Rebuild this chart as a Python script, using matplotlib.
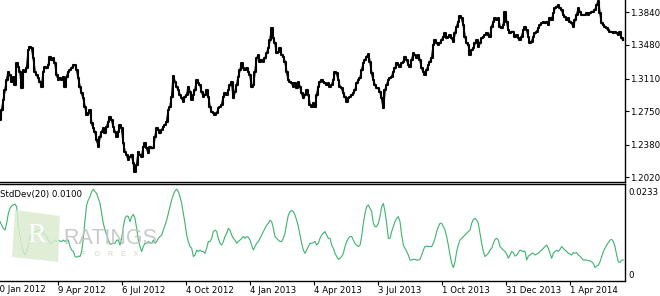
import numpy as np
import matplotlib
matplotlib.use("Agg")
import matplotlib.pyplot as plt
from matplotlib.patches import Polygon

# ========== Data (EURUSD daily) ==========
# close price, one sample every 5/3 bar
price = [
    1.2652, 1.2763, 1.2873, 1.2983, 1.3094, 1.3185, 1.3149, 1.3075, 1.3130, 1.3038,
    1.3277, 1.3241, 1.3185, 1.3002, 1.3204, 1.3185, 1.3222, 1.3424, 1.3461, 1.3443,
    1.3333, 1.3185, 1.3149, 1.3112, 1.3075, 1.3020, 1.3185, 1.3241, 1.3222, 1.3259,
    1.3351, 1.3314, 1.3333, 1.3277, 1.3149, 1.3094, 1.3112, 1.3094, 1.3130, 1.3013,
    1.3130, 1.3185, 1.3204, 1.3222, 1.3259, 1.3259, 1.3204, 1.3112, 1.3020, 1.2946,
    1.2891, 1.2799, 1.2707, 1.2726, 1.2763, 1.2616, 1.2560, 1.2524, 1.2432, 1.2358,
    1.2468, 1.2524, 1.2560, 1.2505, 1.2579, 1.2634, 1.2689, 1.2652, 1.2579, 1.2524,
    1.2468, 1.2524, 1.2597, 1.2560, 1.2395, 1.2303, 1.2266, 1.2211, 1.2248, 1.2266,
    1.2174, 1.2082, 1.2156, 1.2303, 1.2266, 1.2248, 1.2358, 1.2395, 1.2340, 1.2285,
    1.2358, 1.2340, 1.2340, 1.2468, 1.2560, 1.2542, 1.2505, 1.2542, 1.2579, 1.2597,
    1.2634, 1.2763, 1.2799, 1.2910, 1.3138, 1.3075, 1.3020, 1.2983, 1.2928, 1.2891,
    1.2855, 1.2910, 1.2928, 1.3020, 1.2965, 1.2873, 1.2928, 1.2983, 1.3094, 1.3057,
    1.3038, 1.2965, 1.2910, 1.2928, 1.2983, 1.2910, 1.2799, 1.2744, 1.2726, 1.2707,
    1.2726, 1.2781, 1.2799,
    1.2818, 1.2910, 1.2946, 1.2928, 1.2983, 1.3038, 1.3075, 1.2891, 1.2965, 1.3038,
    1.3130, 1.3204, 1.3277, 1.3222, 1.3204, 1.3222, 1.3185, 1.3149, 1.3013, 1.3038,
    1.3185, 1.3333, 1.3369, 1.3296, 1.3314, 1.3296, 1.3333, 1.3388, 1.3443, 1.3535,
    1.3663, 1.3553, 1.3498, 1.3388, 1.3406, 1.3443, 1.3369, 1.3351, 1.3296, 1.3185,
    1.3094, 1.3075, 1.3057, 1.3020, 1.3057, 1.3002, 1.3075, 1.3020, 1.2946, 1.2891,
    1.2928, 1.2983, 1.2928, 1.2818, 1.2799, 1.2836, 1.2799, 1.2928, 1.3020, 1.3075,
    1.3094, 1.3075, 1.3057, 1.3038, 1.3057, 1.3020, 1.3038, 1.3094, 1.3185, 1.3167,
    1.3094, 1.3020, 1.3002, 1.2946, 1.2910, 1.2855, 1.2891, 1.2910, 1.2928, 1.2946,
    1.2983, 1.3057, 1.3094, 1.3112, 1.3204, 1.3277, 1.3314, 1.3351, 1.3380, 1.3296,
    1.3167, 1.3094, 1.3038, 1.3002, 1.3002, 1.2965, 1.2891, 1.2781, 1.2983, 1.3038,
    1.3094, 1.3112, 1.3130, 1.3185, 1.3222, 1.3277, 1.3259, 1.3241, 1.3277, 1.3296,
    1.3351, 1.3314, 1.3259, 1.3241, 1.3314, 1.3388, 1.3369, 1.3333, 1.3369, 1.3314,
    1.3222, 1.3185, 1.3149, 1.3204, 1.3259, 1.3296, 1.3333, 1.3480, 1.3535, 1.3498,
    1.3480, 1.3498,
    1.3535, 1.3571, 1.3608, 1.3553, 1.3571, 1.3590, 1.3553, 1.3516, 1.3608, 1.3682,
    1.3737, 1.3800, 1.3774, 1.3700, 1.3571, 1.3498, 1.3480, 1.3369, 1.3424, 1.3443,
    1.3498, 1.3535, 1.3461, 1.3498, 1.3553, 1.3571, 1.3590, 1.3608, 1.3590, 1.3571,
    1.3682, 1.3737, 1.3774, 1.3755, 1.3774, 1.3682, 1.3663, 1.3700, 1.3847, 1.3737,
    1.3645, 1.3608, 1.3627, 1.3627, 1.3571, 1.3590, 1.3553, 1.3535, 1.3571, 1.3645,
    1.3682, 1.3645, 1.3571, 1.3498, 1.3516, 1.3571, 1.3608, 1.3627, 1.3663, 1.3700,
    1.3719, 1.3737, 1.3719, 1.3737, 1.3700, 1.3774, 1.3755, 1.3829, 1.3884, 1.3902,
    1.3921, 1.3884, 1.3866, 1.3811, 1.3792, 1.3755, 1.3774, 1.3737, 1.3719, 1.3682,
    1.3755, 1.3811, 1.3884, 1.3847, 1.3811, 1.3811, 1.3811, 1.3829, 1.3811, 1.3829,
    1.3847, 1.3847, 1.3866, 1.3921, 1.3969, 1.3829, 1.3719, 1.3700, 1.3682, 1.3663,
    1.3645, 1.3627, 1.3627, 1.3608, 1.3627, 1.3608, 1.3590, 1.3627, 1.3553, 1.3535,
]

# StdDev(20), same sampling
stddev = [
    0.0148, 0.0138, 0.0129, 0.0124, 0.0143, 0.0171, 0.0185, 0.0192, 0.0195, 0.0197,
    0.0190, 0.0134, 0.0106, 0.0082, 0.0064, 0.0054, 0.0064, 0.0082, 0.0106, 0.0115,
    0.0110, 0.0120, 0.0120, 0.0124, 0.0124, 0.0120, 0.0115, 0.0110, 0.0106, 0.0096,
    0.0087, 0.0089, 0.0092, 0.0096, 0.0092, 0.0096, 0.0093, 0.0092, 0.0096, 0.0092,
    0.0096, 0.0096, 0.0078, 0.0068, 0.0064, 0.0050, 0.0048, 0.0051, 0.0050, 0.0064,
    0.0101, 0.0152, 0.0195, 0.0209, 0.0218, 0.0232, 0.0239, 0.0232, 0.0227, 0.0213,
    0.0199, 0.0171, 0.0143, 0.0124, 0.0110, 0.0096, 0.0085, 0.0085, 0.0087, 0.0087,
    0.0096, 0.0096, 0.0082, 0.0101, 0.0134, 0.0157, 0.0164, 0.0162, 0.0148, 0.0162,
    0.0168, 0.0157, 0.0129, 0.0096, 0.0078, 0.0064, 0.0078, 0.0087, 0.0087, 0.0092,
    0.0089, 0.0087, 0.0096, 0.0087, 0.0092, 0.0101, 0.0106, 0.0110, 0.0124, 0.0138,
    0.0152, 0.0171, 0.0190, 0.0209, 0.0223, 0.0234, 0.0239, 0.0232, 0.0218, 0.0199,
    0.0171, 0.0143, 0.0110, 0.0092, 0.0078, 0.0073, 0.0050, 0.0054, 0.0068, 0.0064,
    0.0068, 0.0064, 0.0064, 0.0059, 0.0073, 0.0092, 0.0092, 0.0101, 0.0120, 0.0124,
    0.0120, 0.0101, 0.0087, 0.0082, 0.0092, 0.0106, 0.0115, 0.0129, 0.0124, 0.0110,
    0.0101, 0.0096, 0.0087, 0.0092, 0.0096, 0.0101, 0.0106, 0.0101, 0.0106, 0.0104,
    0.0096, 0.0082, 0.0068, 0.0078, 0.0087, 0.0092, 0.0101, 0.0110, 0.0120, 0.0129,
    0.0138, 0.0143, 0.0152, 0.0148, 0.0129, 0.0106, 0.0101, 0.0096, 0.0092, 0.0092,
    0.0101, 0.0115, 0.0143, 0.0166, 0.0176, 0.0179, 0.0176, 0.0166, 0.0152, 0.0134,
    0.0110, 0.0087, 0.0068, 0.0059, 0.0068, 0.0078, 0.0087, 0.0087, 0.0089, 0.0092,
    0.0082, 0.0087, 0.0101, 0.0110, 0.0115, 0.0120, 0.0110, 0.0101,
    0.0101, 0.0082, 0.0073, 0.0059, 0.0050, 0.0042, 0.0045, 0.0050, 0.0059, 0.0078,
    0.0092, 0.0101, 0.0106, 0.0106, 0.0096, 0.0087, 0.0082, 0.0078, 0.0082, 0.0106,
    0.0143, 0.0171, 0.0190, 0.0195, 0.0185, 0.0176, 0.0143, 0.0134, 0.0134, 0.0143,
    0.0162, 0.0190, 0.0199, 0.0176, 0.0143, 0.0101, 0.0101, 0.0120, 0.0134, 0.0148,
    0.0157, 0.0162, 0.0148, 0.0110, 0.0082, 0.0073, 0.0064, 0.0054, 0.0040, 0.0040,
    0.0042, 0.0042, 0.0040, 0.0040, 0.0042, 0.0054, 0.0068, 0.0078, 0.0079, 0.0078,
    0.0078, 0.0078, 0.0087, 0.0101, 0.0120, 0.0134, 0.0143, 0.0143, 0.0134, 0.0124,
    0.0106, 0.0082, 0.0054, 0.0031, 0.0019, 0.0035, 0.0064, 0.0082, 0.0096, 0.0101,
    0.0106, 0.0110, 0.0115, 0.0120, 0.0124, 0.0143, 0.0154, 0.0157, 0.0152, 0.0143,
    0.0115, 0.0087, 0.0064, 0.0050, 0.0054, 0.0059, 0.0068, 0.0073, 0.0087, 0.0098,
    0.0101, 0.0096, 0.0078, 0.0073, 0.0068, 0.0064, 0.0057, 0.0045, 0.0054, 0.0064,
    0.0061, 0.0051, 0.0054, 0.0061, 0.0068, 0.0066, 0.0064, 0.0065, 0.0040, 0.0051,
    0.0054, 0.0059, 0.0059, 0.0054, 0.0057, 0.0059, 0.0064, 0.0068, 0.0073, 0.0078,
    0.0082, 0.0073, 0.0059, 0.0045, 0.0059, 0.0064, 0.0068, 0.0064, 0.0070, 0.0078,
    0.0073, 0.0068, 0.0064, 0.0059, 0.0057, 0.0054, 0.0061, 0.0059, 0.0061, 0.0054,
    0.0051, 0.0045, 0.0040, 0.0040, 0.0040, 0.0038, 0.0038, 0.0035, 0.0031, 0.0019,
    0.0023, 0.0026, 0.0035, 0.0050, 0.0064, 0.0073, 0.0082, 0.0089, 0.0096, 0.0098,
    0.0092, 0.0078, 0.0054, 0.0035, 0.0033, 0.0040, 0.0040,
]

price_ticks = [1.2020, 1.2380, 1.2750, 1.3110, 1.3480, 1.3840]
sd_ticks = [0.0, 0.0233]
sd_tick_labels = ["0", "0.0233"]
date_labels = ["10 Jan 2012", "9 Apr 2012", "6 Jul 2012", "4 Oct 2012", "4 Jan 2013",
               "4 Apr 2013", "3 Jul 2013", "1 Oct 2013", "31 Dec 2013", "1 Apr 2014"]
first_label_bar = -6
bars_per_label = 64
step = 5 / 3  # bars between two samples

plt.rcParams['font.family'] = ['DejaVu Sans']
FS = 6.2

W, H = 660, 296
fig = plt.figure(figsize=(W / 100, H / 100), dpi=100)
fig.patch.set_facecolor('white')

ax1 = fig.add_axes([0, 1 - 182 / H, 625 / W, 182 / H])
ax2 = fig.add_axes([0, 1 - 281 / H, 625 / W, 97 / H])

x_price = np.arange(len(price)) * step
x_sd = np.arange(len(stddev)) * step

# ---- price panel (bar-like look: vertical steps) ----
ax1.plot(x_price, price, color='black', linewidth=1.5, drawstyle='steps-mid')
ax1.plot(x_price, price, color='black', linewidth=1.2)
ax1.set_xlim(0, 625)
ax1.set_ylim(1.1969, 1.3976)
ax1.yaxis.tick_right()
ax1.set_yticks(price_ticks)
ax1.set_yticklabels([f"{v:.4f}" for v in price_ticks])
ax1.set_xticks([])
ax1.tick_params(axis='y', direction='out', length=3, width=0.8, pad=0.5, labelsize=FS)

# ---- StdDev panel ----
ax2.plot(x_sd, stddev, color='#3cb371', linewidth=0.8, zorder=3)
ax2.set_xlim(0, 625)
ax2.set_ylim(-0.00188, 0.02535)
ax2.yaxis.tick_right()
ax2.set_yticks(sd_ticks)
ax2.set_yticklabels(sd_tick_labels)
ax2.tick_params(axis='y', direction='out', length=0, pad=2.3, labelsize=FS)

tick_bars = [first_label_bar + bars_per_label * i for i in range(len(date_labels))]
ax2.set_xticks(tick_bars[1:])
ax2.set_xticklabels(date_labels[1:])
for lbl in ax2.get_xticklabels():
    lbl.set_horizontalalignment('left')
ax2.tick_params(axis='x', direction='out', length=3, width=0.8, pad=0.8, labelsize=FS)
ax2.annotate(date_labels[0], xy=(tick_bars[0], 0), xycoords=('data', 'axes fraction'),
             xytext=(0, -2.9), textcoords='offset points', ha='left', va='top',
             fontsize=FS, annotation_clip=False)

ax2.text(0.0, 0.94, "StdDev(20) 0.0100", transform=ax2.transAxes,
         ha='left', va='top', fontsize=FS)

for ax in (ax1, ax2):
    ax.set_facecolor('white')
    ax.spines['left'].set_visible(False)
    for s in ('right', 'bottom', 'top'):
        ax.spines[s].set_linewidth(1.0)
        ax.spines[s].set_color('black')
ax1.spines['top'].set_visible(False)

# ---- watermark ----
logo = Polygon([(15 / W, 1 - 210 / H), (60 / W, 1 - 216 / H),
                (58 / W, 1 - 262 / H), (12 / W, 1 - 257 / H)],
               closed=True, transform=fig.transFigure, facecolor='#dcecd0',
               edgecolor='none', alpha=0.85, zorder=0)
fig.patches.append(logo)
fig.text(37 / W, 1 - 236 / H, "R", color='white', fontsize=20, ha='center',
         va='center', family='Liberation Serif', alpha=0.95)
fig.text(110 / W, 1 - 238 / H, "RATINGS", color='#c4c4c4', fontsize=15.5,
         ha='center', va='center', family='Liberation Sans', alpha=0.9)
fig.text(110 / W, 1 - 255 / H, "F    O    R    E    X", color='#cfd8c6', fontsize=5,
         ha='center', va='center', family='Liberation Sans')
ax2.patch.set_alpha(0)

fig.savefig("out.png", dpi=100, facecolor='white')
